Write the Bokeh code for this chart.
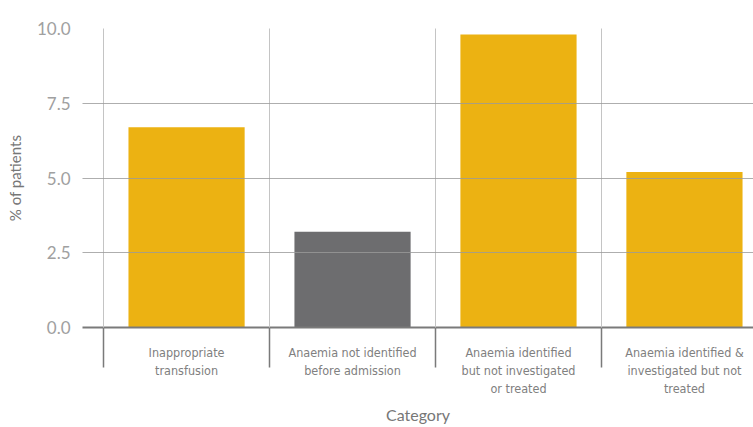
from bokeh.plotting import figure
from bokeh.models import Range1d, FixedTicker
from bokeh.embed import file_html
from bokeh.resources import INLINE

categories = ["Inappropriate\ntransfusion",
              "Anaemia not identified\nbefore admission",
              "Anaemia identified\nbut not investigated\nor treated",
              "Anaemia identified &\ninvestigated but not\ntreated"]
values = [6.7, 3.2, 9.8, 5.2]
colors = ["#ECB212", "#6D6D6F", "#ECB212", "#ECB212"]
y_ticks = [0.0, 2.5, 5.0, 7.5, 10.0]

n = len(categories)
centers = [i + 0.5 for i in range(n)]
bounds = [float(i) for i in range(n)]

p = figure(width=753, height=427, output_backend="svg", toolbar_location=None,
           x_range=Range1d(-0.127, 3.916), y_range=Range1d(0, 10),
           min_border_left=82, min_border_right=0, min_border_top=28, min_border_bottom=100)
p.outline_line_color = None

p.vbar(x=centers, top=values, width=0.7, color=colors, line_color=None)

# x axis
p.xaxis.ticker = FixedTicker(ticks=centers, minor_ticks=bounds)
p.xaxis.major_label_overrides = {c: lab for c, lab in zip(centers, categories)}
p.xaxis.major_tick_line_color = None
p.xaxis.major_tick_out = 0
p.xaxis.major_tick_in = 0
p.xaxis.minor_tick_out = 40
p.xaxis.minor_tick_in = 0
p.xaxis.minor_tick_line_color = "#7a7a7a"
p.xaxis.minor_tick_line_width = 1.5
p.xaxis.axis_line_color = "#7a7a7a"
p.xaxis.axis_line_width = 2
p.xaxis.major_label_standoff = -23
p.xaxis.major_label_text_font = "DejaVu Sans Condensed"
p.xaxis.major_label_text_font_size = "12.5px"
p.xaxis.major_label_text_color = "#808080"
p.xaxis.axis_label = "Category"
p.xaxis.axis_label_text_font = "Lato"
p.xaxis.axis_label_text_font_style = "normal"
p.xaxis.axis_label_text_font_size = "16px"
p.xaxis.axis_label_text_color = "#777777"
p.xaxis.axis_label_standoff = 6

# y axis
p.yaxis.ticker = FixedTicker(ticks=y_ticks)
p.yaxis.major_label_overrides = {t: f"{t:.1f}" for t in y_ticks}
p.yaxis.axis_line_color = None
p.yaxis.major_tick_line_color = None
p.yaxis.minor_tick_line_color = None
p.yaxis.major_label_standoff = 6
p.yaxis.major_label_text_font = "Lato"
p.yaxis.major_label_text_font_size = "17px"
p.yaxis.major_label_text_color = "#a0a0a0"
p.yaxis.axis_label = "% of patients"
p.yaxis.axis_label_text_font = "Lato"
p.yaxis.axis_label_text_font_style = "normal"
p.yaxis.axis_label_text_font_size = "15px"
p.yaxis.axis_label_text_color = "#777777"
p.yaxis.axis_label_standoff = 10

# grids (drawn above bars as in the reference)
p.xgrid.ticker = FixedTicker(ticks=bounds)
p.xgrid.grid_line_color = "#c4c4c4"
p.xgrid.grid_line_width = 1
p.xgrid.level = "annotation"
p.ygrid.ticker = FixedTicker(ticks=y_ticks)
p.ygrid.grid_line_color = "#9a9a9a"
p.ygrid.grid_line_alpha = 0.8
p.ygrid.grid_line_width = 1.2
p.ygrid.level = "annotation"

open("out.html", "w").write(file_html(p, INLINE))
